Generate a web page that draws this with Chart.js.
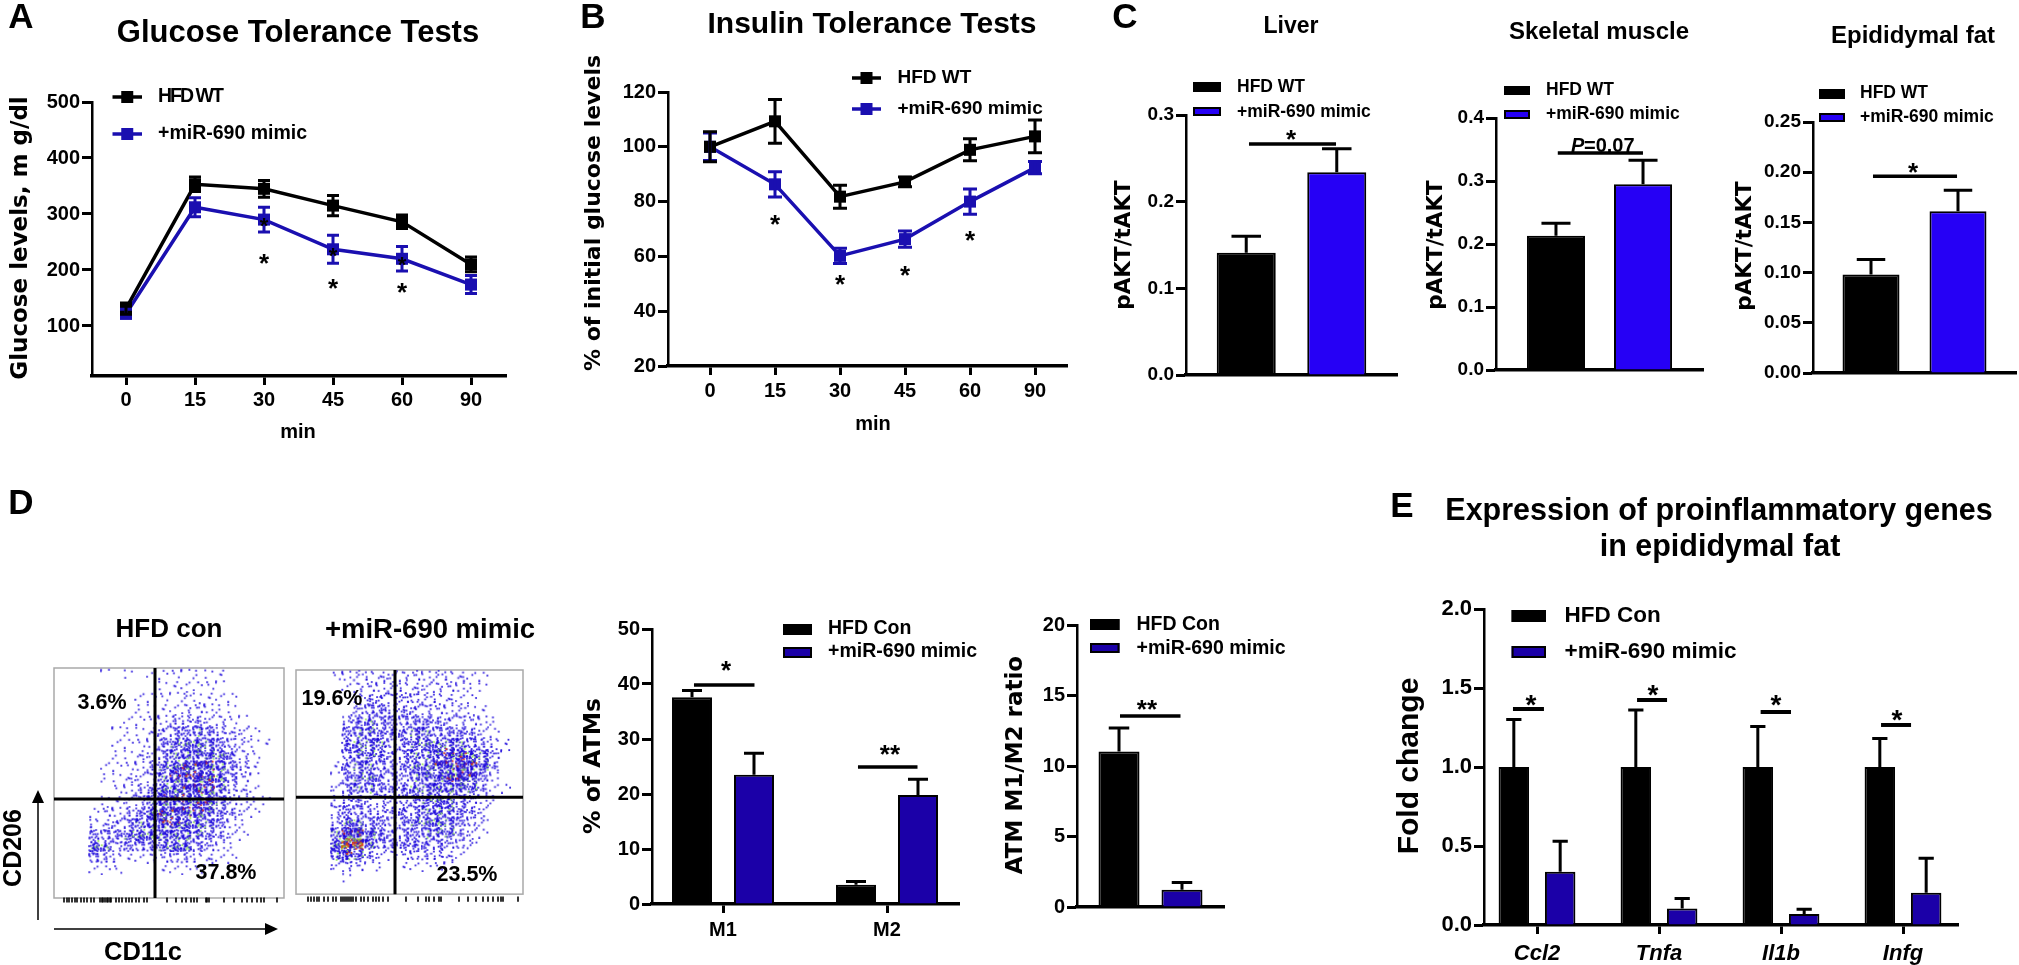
<!DOCTYPE html>
<html><head><meta charset="utf-8">
<style>html,body{margin:0;padding:0;background:#fff;width:2019px;height:965px;overflow:hidden}canvas{position:absolute;display:block}</style>
<script src="https://cdn.jsdelivr.net/npm/chart.js@4"></script>
</head><body>
<script>
// ---------- data ----------
const labelWT = 'HFD WT', labelCon = 'HFD Con', labelMimic = '+miR-690 mimic';
const minutes = ['0','15','30','45','60','90'];
const gttWT = [131,353,345,315,286,210];
const gttWTErr = [10,13,15,18,12,13];
const gttMimic = [122,312,290,237,220,174];
const gttMimicErr = [8,17,22,25,22,16];
const gttTicks = ['100','200','300','400','500'];
const ittWT = [100,109.3,81.8,87.2,98.9,103.8];
const ittWTErr = [5.5,8,4.2,1.8,4,6];
const ittMimic = [100,86.3,60.2,66.3,80,92.4];
const ittMimicErr = [5,4.6,2.8,3,4.6,2.2];
const ittTicks = ['20','40','60','80','100','120'];
const liverValues = [0.141,0.234], liverErr = [0.019,0.027], liverTicks = ['0.0','0.1','0.2','0.3'];
const muscleValues = [0.213,0.295], muscleErr = [0.020,0.038], muscleTicks = ['0.0','0.1','0.2','0.3','0.4'];
const fatValues = [0.098,0.161], fatErr = [0.015,0.021], fatTicks = ['0.00','0.05','0.10','0.15','0.20','0.25'];
const atmGroups = ['M1','M2'];
const atmCon = [37.6,3.5], atmConErr = [1.2,0.6], atmMimic = [23.5,19.8], atmMimicErr = [3.9,2.9];
const atmTicks = ['0','10','20','30','40','50'];
const ratioValues = [11.03,1.23], ratioErr = [1.67,0.5], ratioTicks = ['0','5','10','15','20'];
const genes = ['Ccl2','Tnfa','Il1b','Infg'];
const geneCon = [1,1,1,1], geneConErr = [0.30,0.36,0.257,0.18];
const geneMimic = [0.337,0.105,0.07,0.204], geneMimicErr = [0.193,0.063,0.029,0.219];
const geneTicks = ['0.0','0.5','1.0','1.5','2.0'];
// flow-cytometry plots: estimated dot density (0-9) per 20x20 cell, read by eye
const densityCon = [
'00001010111111100000','00000000011111100000','00000001111211110000','00000001111222110000',
'00000011123332211000','00000111234454322100','00000111245565432110','00000112245666542100',
'00001112356777643100','00001122357787642100','00000123466787532100','00001123577777532110',
'00012234677776432100','00022345677665421000','00044456666654321000','00065344456643210000',
'00043211223322110000','00011100011111000000','00000000000000000000','00000000000000000000'];
const densityMimic = [
'00012222222222211000','00001222222222211000','00000233333222110000','00000344333322211000',
'00003454444433322100','00004554445544432100','00004555345555543210','00004554345567765310',
'00014554345577876300','00014554435668874200','00024554445566653110','00013333334555432100',
'00034433344565432000','00035544345565432000','00058864344555321000','00069964444443320000',
'00057532223332100000','00023211011111000000','00001000000000000000','00000000000000000000'];
const rugCon = [10,13,15,18,21,23,27,30,33,37,40,46,48,49,51,53,54,56,57,62,65,68,72,75,78,82,85,90,93,113,122,128,132,137,140,143,152,153,155,170,180,188,193,198,203,207,210,223];
const rugMimic = [12,15,18,21,23,28,32,37,40,45,47,49,51,53,55,57,60,65,68,72,77,80,83,87,92,110,122,130,133,138,143,145,163,172,180,187,192,197,202,205,207,222];

// ---------- styles ----------
const LS = '"Liberation Sans", Arial, sans-serif', DJ = '"DejaVu Sans", sans-serif';
const BLACK = '#000000', BRIGHT = '#2600F5', DEEP = '#1B00A8', LINEBLUE = '#1A0FB0';
const bold = (s, st) => ({family: LS, size: s, weight: 'bold', style: st || 'normal'});

// ---------- helpers ----------
function yAxis(ticks, min, max, width, size, bw) {
  return {type:'linear', min, max,
    afterBuildTicks: s => { s.ticks = ticks.map(v => ({value:+v})); },
    afterFit: s => { s.width = width; },
    ticks:{callback:(v,i)=>ticks[i], font:bold(size), color:BLACK, padding:2, autoSkip:false},
    border:{display:true, width:bw||2.5, color:BLACK},
    grid:{drawOnChartArea:false, tickLength:10, tickWidth:3, tickColor:BLACK}};
}
function xAxis(labels, min, max, height, size, pad, italic) {
  const has = labels && labels.length;
  return {type:'linear', min, max, offset:false,
    afterBuildTicks: s => { s.ticks = has ? labels.map((_,i)=>({value:i})) : []; },
    afterFit: s => { s.height = height; },
    ticks:{display:!!has, callback:(v,i)=>has?labels[i]:'', font:bold(size||20, italic?'italic':'normal'), color:BLACK, padding:pad||3, autoSkip:false, maxRotation:0, minRotation:0},
    border:{display:true, width:3.5, color:BLACK},
    grid:{offset:false, drawOnChartArea:false, drawTicks:!!has, tickLength:9, tickWidth:3, tickColor:BLACK}};
}
function marksPlugin(p) {
  return {id:'marks', afterDatasetsDraw(chart){
    const c = chart.ctx, X = chart.scales.x, Y = chart.scales.y;
    c.save(); c.strokeStyle = BLACK; c.fillStyle = BLACK; c.lineCap = 'butt';
    // error bars
    if (p.err) for (let d = chart.data.datasets.length-1; d >= 0; d--) {
      const ds = chart.data.datasets[d]; if (!ds.err) continue;
      const meta = chart.getDatasetMeta(d);
      c.strokeStyle = p.kind === 'line' ? ds.borderColor : BLACK; c.lineWidth = p.errW || 3;
      ds.data.forEach((pt,j) => {
        const el = meta.data[j], x = el.x, yt = Y.getPixelForValue(pt.y + ds.err[j]);
        const yb = p.kind === 'line' ? Y.getPixelForValue(pt.y - ds.err[j]) : Y.getPixelForValue(pt.y);
        const cap = p.kind === 'line' ? p.cap/2 : el.width/4;
        c.beginPath(); c.moveTo(x,yt); c.lineTo(x,yb);
        c.moveTo(x-cap,yt); c.lineTo(x+cap,yt);
        if (p.kind === 'line') { c.moveTo(x-cap,yb); c.lineTo(x+cap,yb); }
        c.stroke();
      });
    }
    c.strokeStyle = BLACK; c.fillStyle = BLACK;
    // significance lines
    (p.sig||[]).forEach(s => {
      c.lineWidth = p.sigW || 3.5;
      const y = Y.getPixelForValue(s.v);
      c.beginPath(); c.moveTo(X.getPixelForValue(s.x0),y); c.lineTo(X.getPixelForValue(s.x1),y); c.stroke();
    });
    // asterisks
    c.textAlign = 'center'; c.textBaseline = 'alphabetic';
    (p.stars||[]).forEach(s => {
      const z = s.s || p.starSize || 26;
      c.font = 'bold '+z+'px '+LS;
      c.fillText(s.t||'*', X.getPixelForValue(s.x), Y.getPixelForValue(s.v) + 0.58*z);
    });
    // everything below is placed in page coordinates
    c.translate(-p.box[0], -p.box[1]);
    (p.legend||[]).forEach(it => {
      const ds = chart.data.datasets[it.ds], [a,b,e,f] = it.sw;
      if (p.kind === 'line') {
        const m = (b+f)/2;
        c.strokeStyle = ds.borderColor; c.lineWidth = 3.5;
        c.beginPath(); c.moveTo(a,m); c.lineTo(e,m); c.stroke();
        c.fillStyle = ds.borderColor; c.fillRect((a+e)/2-6,m-6,12,12);
      } else {
        c.fillStyle = ds.backgroundColor; c.fillRect(a,b,e-a,f-b);
        c.strokeStyle = ds.borderColor; c.lineWidth = 2; c.strokeRect(a+1,b+1,e-a-2,f-b-2);
      }
      c.fillStyle = BLACK; c.textAlign = 'left'; c.textBaseline = 'middle';
      c.font = 'bold '+it.s+'px '+LS; c.letterSpacing = (it.ls||0)+'px';
      c.fillText(ds.label, it.tx, it.ty); c.letterSpacing = '0px';
    });
    (p.texts||[]).forEach(t => {
      c.save(); c.fillStyle = BLACK; c.textAlign = t.a||'center'; c.textBaseline = 'middle';
      c.font = (t.i?'italic ':'')+(t.w||'bold')+' '+t.s+'px '+(t.f||LS);
      c.translate(t.x,t.y); if (t.r) c.rotate(t.r*Math.PI/180);
      c.fillText(t.t,0,0); c.restore();
    });
    (p.arrows||[]).forEach(a => {
      const dx = a[2]-a[0], dy = a[3]-a[1], L = Math.hypot(dx,dy), ux = dx/L, uy = dy/L, h = 13, w = 6;
      c.strokeStyle = BLACK; c.fillStyle = BLACK; c.lineWidth = 1.5;
      c.beginPath(); c.moveTo(a[0],a[1]); c.lineTo(a[2]-ux*h,a[3]-uy*h); c.stroke();
      c.beginPath(); c.moveTo(a[2],a[3]); c.lineTo(a[2]-ux*h-uy*w,a[3]-uy*h+ux*w); c.lineTo(a[2]-ux*h+uy*w,a[3]-uy*h-ux*w); c.closePath(); c.fill();
    });
    c.restore();
  }};
}
function mount(p, config) {
  const cv = document.createElement('canvas');
  cv.width = p.box[2]; cv.height = p.box[3];
  cv.style.left = p.box[0]+'px'; cv.style.top = p.box[1]+'px';
  cv.style.width = p.box[2]+'px'; cv.style.height = p.box[3]+'px';
  document.body.appendChild(cv);
  const [bx,by,bw,bh] = p.box, [x0,y0,x1,y1] = p.plot;
  config.options = Object.assign({
    responsive:false, animation:false, devicePixelRatio:1,
    layout:{autoPadding:false, padding:p.fullPad
      ? {left:x0-bx, top:y0-by, right:bx+bw-x1, bottom:by+bh-y1}
      : {left:0, top:y0-by, right:bx+bw-x1, bottom:0}},
    plugins:{legend:{display:false}, tooltip:{enabled:false}, title:{display:false}}
  }, config.options);
  config.plugins = (config.plugins||[]).concat([marksPlugin(p)]);
  return new Chart(cv, config);
}
const pts = arr => arr.map((v,i) => ({x:i, y:v}));
function lineSet(label, color, values, err, lw) {
  return {label, data:pts(values), err, borderColor:color, backgroundColor:color, borderWidth:lw||3.5,
    pointStyle:'rect', pointRadius:8.5, pointBackgroundColor:color, pointBorderColor:color, pointBorderWidth:0, tension:0, clip:false};
}
function barSet(label, color, data, err, cp, bp) {
  return {label, data, err, backgroundColor:color, borderColor:BLACK, borderWidth:2, categoryPercentage:cp, barPercentage:bp};
}
function linePanel(p, sets, ticks, ymin, ymax, idx0, unit, xh, pad) {
  const [bx,by,bw,bh] = p.box, [x0,y0,x1,y1] = p.plot;
  p.kind = 'line'; p.err = true;
  mount(p, {type:'line', data:{datasets:sets}, options:{scales:{
    x: xAxis(minutes, (x0-idx0)/unit, (x1-idx0)/unit, by+bh-y1, 20, pad),
    y: yAxis(ticks, ymin, ymax, x0-bx, 20)
  }}});
}
function pairPanel(p, lab0, values, errs, col, ticks, ymax, cp, bp, size, lab1) {
  const [bx,by,bw,bh] = p.box, [x0,y0,x1,y1] = p.plot;
  p.err = true;
  mount(p, {type:'bar', data:{datasets:[
    barSet(lab0, BLACK, [{x:0,y:values[0]}], [errs[0]], cp, bp),
    barSet(lab1, col, [{x:0,y:values[1]}], [errs[1]], cp, bp)
  ]}, options:{scales:{
    x: xAxis([], -1, 1, by+bh-y1),
    y: yAxis(ticks, 0, ymax, x0-bx, size)
  }}});
}
function groupPanel(p, labels, setA, setB, ticks, ymax, idx0, unit, size, pad, italic) {
  const [bx,by,bw,bh] = p.box, [x0,y0,x1,y1] = p.plot;
  p.err = true;
  mount(p, {type:'bar', data:{datasets:[setA,setB]}, options:{scales:{
    x: xAxis(labels, (x0-idx0)/unit, (x1-idx0)/unit, by+bh-y1, size, pad, italic),
    y: yAxis(ticks, 0, ymax, x0-bx, size)
  }}});
}
// stipple textures for the density cells: a fixed drawing texture, not data
function stipple(level, seed) {
  const counts = [0,3,6,10,17,26,35,46,58,70];
  const cv = document.createElement('canvas'); cv.width = cv.height = 12;
  const c = cv.getContext('2d');
  const f = v => v - Math.floor(v);
  for (let i = 0; i < counts[level]; i++) {
    const x = f(Math.sin((i+1)*12.9898 + seed*78.233)*43758.5453) * 10.2;
    const y = f(Math.sin((i+1)*39.346 + seed*11.135)*24634.6345) * 10.2;
    let col = 'rgba(28,8,220,0.88)';
    if (level >= 5 && i % 8 === 3) col = 'rgba(150,230,90,0.95)';
    if (level >= 7 && i % 13 === 4) col = 'rgba(215,50,30,0.95)';
    if (level === 9 && i % 3 === 1) col = 'rgba(225,55,15,0.95)';
    if (level === 9 && i % 5 === 2) col = 'rgba(150,190,40,0.95)';
    c.fillStyle = col; c.fillRect(x,y,1.8,1.8);
  }
  return cv;
}
const textures = [];
for (let l = 0; l < 10; l++) { textures[l] = []; for (let s = 0; s < 7; s++) textures[l][s] = stipple(l,s+1); }
function dotPanel(p, density, rug, wide, tall, crossX, crossY, rugY) {
  const cw = wide/20, ch = tall/20, cells = [];
  density.forEach((row,r) => [...row].forEach((d,k) => { if (+d > 0) cells.push({x:(k+.5)*cw, y:(r+.5)*ch, d:+d, k:(k*3+r*5)%7}); }));
  p.fullPad = true;
  const hide = (min,max,rev) => ({type:'linear', min, max, reverse:!!rev, display:false});
  mount(p, {type:'scatter', data:{datasets:[
    {label:'CD11c gate', data:[{x:crossX,y:0},{x:crossX,y:tall}], showLine:true, borderColor:BLACK, borderWidth:3, pointRadius:0, clip:false},
    {label:'CD206 gate', data:[{x:0,y:crossY},{x:wide,y:crossY}], showLine:true, borderColor:BLACK, borderWidth:3, pointRadius:0, clip:false},
    {label:'rug', data:rug.map(v=>({x:v,y:rugY})), pointStyle:'line', rotation:90, pointRadius:2.6, pointBorderWidth:1.6, pointBorderColor:BLACK, clip:false},
    {label:'density', data:cells, pointRadius:6, pointStyle:ctx => { const r = ctx.raw; return r ? textures[r.d][r.k] : 'circle'; }, clip:false}
  ]}, options:{scales:{x:hide(0,wide), y:hide(0,rugY+6,true)}},
  plugins:[{id:'frame', beforeDatasetsDraw(chart){
    const c = chart.ctx, X = chart.scales.x, Y = chart.scales.y;
    c.save(); c.strokeStyle = '#a9a9a9'; c.lineWidth = 1.5;
    c.strokeRect(X.getPixelForValue(0), Y.getPixelForValue(0), X.getPixelForValue(wide)-X.getPixelForValue(0), Y.getPixelForValue(tall)-Y.getPixelForValue(0));
    c.restore();
  }}]});
}

// ---------- panel A ----------
linePanel({box:[0,0,565,470], plot:[92,102,506,376], cap:12,
  stars:[{x:2,v:223},{x:3,v:179},{x:4,v:171},{x:2,v:288,s:22},{x:3,v:236,s:22},{x:4,v:219,s:22}],
  legend:[{ds:0,sw:[112.5,92,142,102],tx:158,ty:97,s:19.5,ls:-2},{ds:1,sw:[112.5,129,142,139],tx:158,ty:134,s:19.5}],
  texts:[{t:'A',x:21,y:18,s:35},{t:'Glucose Tolerance Tests',x:298,y:33,s:31},
    {t:'Glucose levels, m g/dl',x:21,y:238,s:23,f:DJ,r:-90},{t:'min',x:298,y:432,s:20}]},
  [lineSet(labelWT,BLACK,gttWT,gttWTErr), lineSet(labelMimic,LINEBLUE,gttMimic,gttMimicErr)],
  gttTicks, 10.7, 500, 126, 69, 94, 3);

// ---------- panel B ----------
linePanel({box:[565,0,525,470], plot:[668,92,1067,366], cap:14,
  stars:[{x:1,v:74},{x:2,v:52.2},{x:3,v:55.5},{x:4,v:68.3}],
  legend:[{ds:0,sw:[852,73,881,83],tx:897.5,ty:78,s:19},{ds:1,sw:[852,104,881,114],tx:897.5,ty:109,s:19}],
  texts:[{t:'B',x:593,y:18,s:35},{t:'Insulin Tolerance Tests',x:872,y:25,s:30},
    {t:'% of initial glucose levels',x:594,y:213,s:22,f:DJ,r:-90},{t:'min',x:873,y:424,s:20}]},
  [lineSet(labelWT,BLACK,ittWT,ittWTErr), lineSet(labelMimic,LINEBLUE,ittMimic,ittMimicErr)],
  ittTicks, 20, 120, 710, 65, 104, 4);

// ---------- panel C ----------
pairPanel({box:[1090,0,315,400], plot:[1186,115,1397,375],
  sig:[{x0:-.403,x1:.422,v:.2665}], stars:[{x:-.005,v:.279}],
  legend:[{ds:0,sw:[1193,82,1221,92],tx:1237,ty:87,s:17.5},{ds:1,sw:[1193,107,1221,116],tx:1237,ty:112,s:17.5}],
  texts:[{t:'C',x:1125,y:18,s:35},{t:'Liver',x:1291,y:27,s:23},
    {t:'pAKT/tAKT',x:1124,y:245,s:21.5,f:DJ,r:-90}]},
  labelWT, liverValues, liverErr, BRIGHT, liverTicks, .3, .858, .652, 19, labelMimic);
pairPanel({box:[1405,0,315,400], plot:[1496,118,1703,370],
  sig:[{x0:-.403,x1:.42,v:.3444}],
  legend:[{ds:0,sw:[1504,86,1530,95],tx:1546,ty:90,s:17.5},{ds:1,sw:[1504,110,1530,119],tx:1546,ty:114,s:17.5}],
  texts:[{t:'Skeletal muscle',x:1599,y:32,s:24},{t:'pAKT/tAKT',x:1436,y:245,s:21.5,f:DJ,r:-90},
    {t:'P',x:1571,y:146,s:20,i:true,a:'left'},{t:'=0.07',x:1584,y:146,s:20,a:'left'}]},
  labelWT, muscleValues, muscleErr, BRIGHT, muscleTicks, .4, .841, .667, 19, labelMimic);
pairPanel({box:[1720,0,299,400], plot:[1813,122,2016,373],
  sig:[{x0:-.409,x1:.419,v:.196}], stars:[{x:-.015,v:.206}],
  legend:[{ds:0,sw:[1819,89,1845,99],tx:1860,ty:93,s:17.5},{ds:1,sw:[1819,113,1845,122],tx:1860,ty:117,s:17.5}],
  texts:[{t:'Epididymal fat',x:1913,y:36,s:24},{t:'pAKT/tAKT',x:1745,y:246,s:21.5,f:DJ,r:-90}]},
  labelWT, fatValues, fatErr, BRIGHT, fatTicks, .25, .857, .655, 19, labelMimic);

// ---------- panel D: flow plots ----------
dotPanel({box:[0,480,292,485], plot:[54,668,284,906],
  arrows:[[38,920,38,790],[54,929,278,929]],
  texts:[{t:'D',x:21,y:504,s:35},{t:'HFD con',x:169,y:630,s:26},
    {t:'3.6%',x:102,y:703,s:21.5},{t:'37.8%',x:226,y:873,s:21.5},
    {t:'CD206',x:14,y:848,s:25,r:-90},{t:'CD11c',x:143,y:953,s:25.5}]},
  densityCon, rugCon, 230, 230, 101, 131, 232);
dotPanel({box:[292,480,260,485], plot:[296,670,523,905],
  texts:[{t:'+miR-690 mimic',x:430,y:630,s:27.5},{t:'19.6%',x:332,y:699,s:21.5},{t:'23.5%',x:467,y:875,s:21.5}]},
  densityMimic, rugMimic, 227, 227, 99, 129, 232);

// ---------- panel D: bars ----------
groupPanel({box:[570,590,420,375], plot:[652,629,959,904],
  sig:[{x0:-.177,x1:.192,v:39.8},{x0:.823,x1:1.186,v:24.9}],
  stars:[{x:.018,v:43.6},{x:1.018,v:28.4,t:'**'}],
  legend:[{ds:0,sw:[783,624,812,635],tx:828,ty:629,s:19.5},{ds:1,sw:[783,647,812,658],tx:828,ty:652,s:19.5}],
  texts:[{t:'% of ATMs',x:594,y:766,s:23.5,f:DJ,r:-90}]},
  atmGroups,
  barSet(labelCon,BLACK,pts(atmCon),atmConErr,.756,.645),
  barSet(labelMimic,DEEP,pts(atmMimic),atmMimicErr,.756,.645),
  atmTicks, 50, 723, 164, 20, 5);
pairPanel({box:[990,590,380,375], plot:[1077,625,1224,907],
  sig:[{x0:-.415,x1:.408,v:13.55}], stars:[{x:-.048,v:14.47,t:'**'}],
  legend:[{ds:0,sw:[1090,619,1119.5,630],tx:1136.5,ty:625,s:19.5},{ds:1,sw:[1090,643,1119.5,653],tx:1136.5,ty:649,s:19.5}],
  texts:[{t:'ATM M1/M2 ratio',x:1016,y:765,s:23,f:DJ,r:-90}]},
  labelCon, ratioValues, ratioErr, DEEP, ratioTicks, 20, .857, .651, 20, labelMimic);

// ---------- panel E ----------
groupPanel({box:[1380,480,639,485], plot:[1484,609,1958,925], starSize:28, sigW:4,
  sig:[{x0:-.197,x1:.057,v:1.367},{x0:.82,x1:1.066,v:1.424},{x0:1.833,x1:2.082,v:1.348},{x0:2.82,x1:3.066,v:1.266}],
  stars:[{x:-.049,v:1.437},{x:.951,v:1.5},{x:1.959,v:1.437},{x:2.951,v:1.342}],
  legend:[{ds:0,sw:[1511.6,610,1546,622],tx:1564.6,ty:616,s:22.5},{ds:1,sw:[1511.6,646,1546,658],tx:1564.6,ty:652,s:22.5}],
  texts:[{t:'E',x:1402,y:507,s:35},{t:'Expression of proinflammatory genes',x:1719,y:512,s:30.5},
    {t:'in epididymal fat',x:1720,y:548,s:30.5},{t:'Fold change',x:1410,y:766,s:30,r:-90}]},
  genes,
  barSet(labelCon,BLACK,pts(geneCon),geneConErr,.76,.657),
  barSet(labelMimic,DEEP,pts(geneMimic),geneMimicErr,.76,.657),
  geneTicks, 2, 1537, 122, 22, 7, true);
</script>
</body></html>
